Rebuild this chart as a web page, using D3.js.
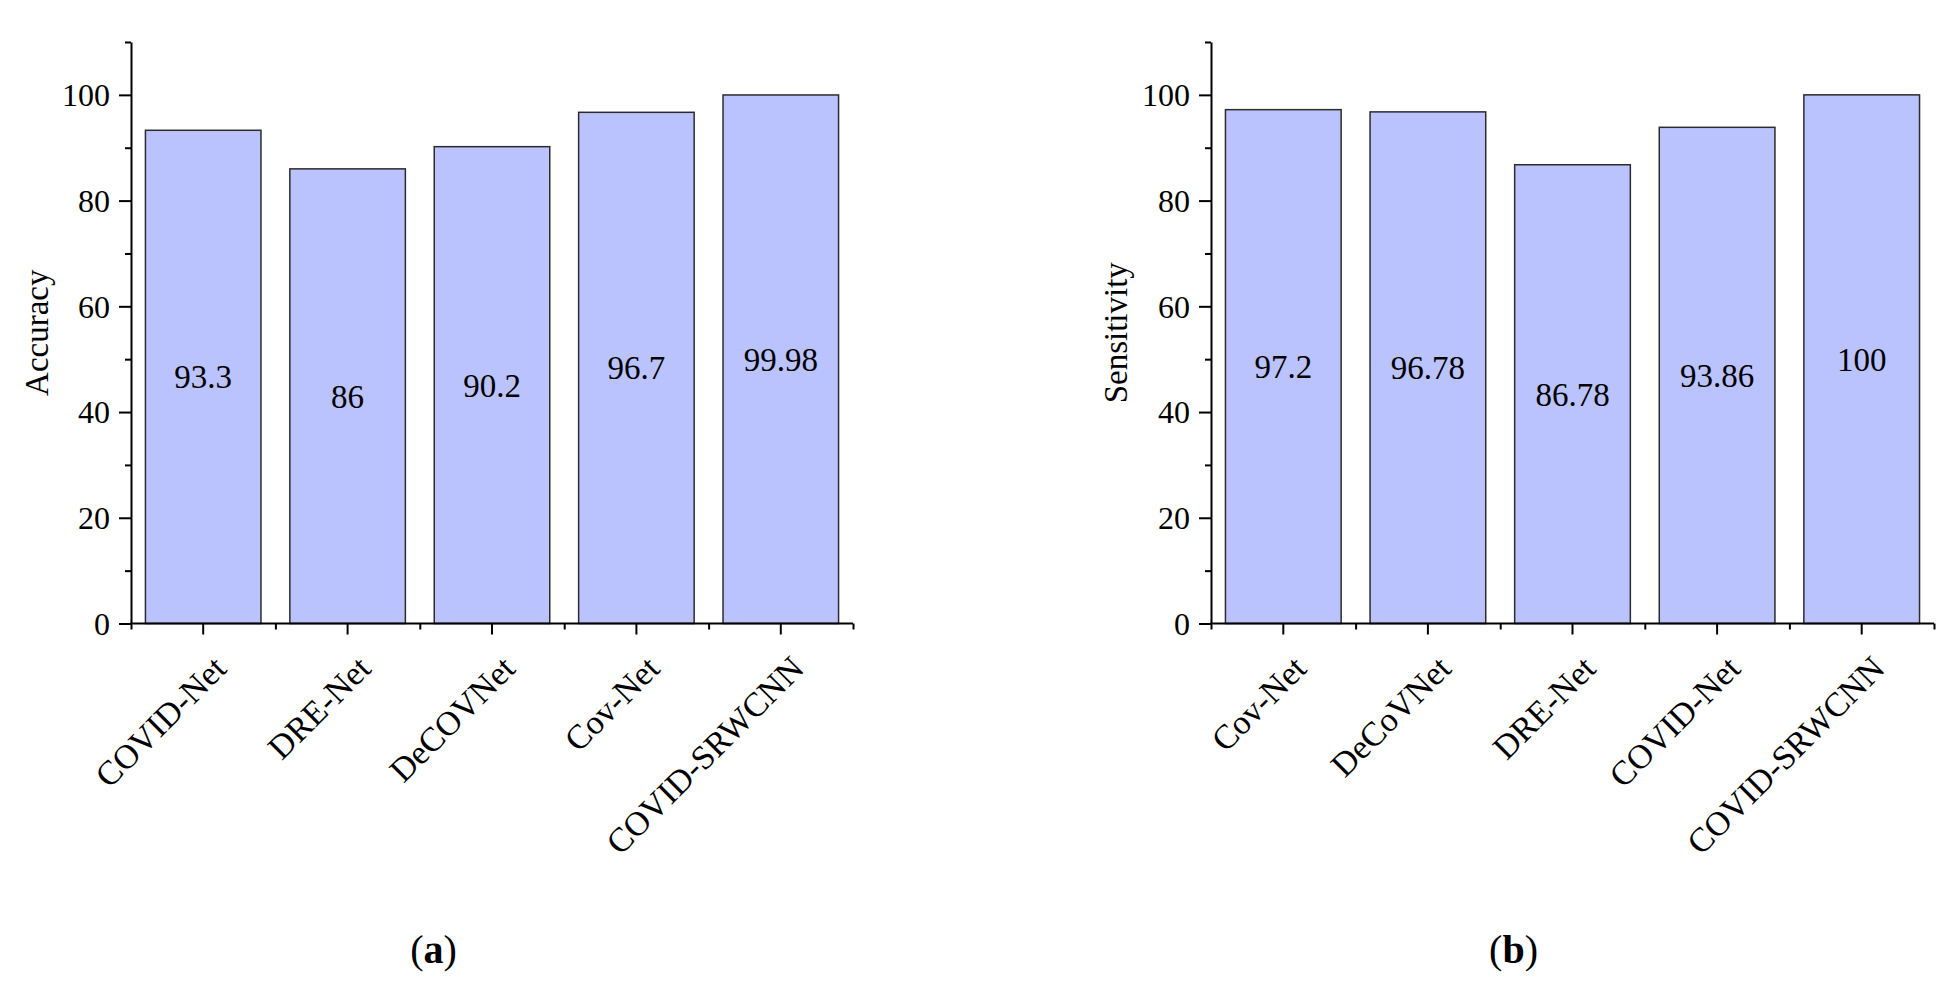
<!DOCTYPE html>
<html>
<head>
<meta charset="utf-8">
<script src="https://cdn.jsdelivr.net/npm/d3@7"></script>
<style>
  html, body { margin: 0; padding: 0; background: #fff; }
  svg { display: block; }
  text { font-family: "Liberation Serif", "Times New Roman", serif; fill: #000; }
</style>
</head>
<body>
<svg id="chart" width="1958" height="991"></svg>
<script>
// ---- data ----
const accCategories = ["COVID-Net", "DRE-Net", "DeCOVNet", "Cov-Net", "COVID-SRWCNN"];
const accValues = [93.3, 86, 90.2, 96.7, 99.98];
const accLabels = ["93.3", "86", "90.2", "96.7", "99.98"];

const senCategories = ["Cov-Net", "DeCoVNet", "DRE-Net", "COVID-Net", "COVID-SRWCNN"];
const senValues = [97.2, 96.78, 86.78, 93.86, 100];
const senLabels = ["97.2", "96.78", "86.78", "93.86", "100"];

const yMajorTicks = [0, 20, 40, 60, 80, 100];
const yMinorTicks = [10, 30, 50, 70, 90, 110];
const yDomain = [0, 110];

const panelTitles = ["Accuracy", "Sensitivity"];
const panelCaptions = ["a", "b"];

// ---- layout ----
const svg = d3.select("#chart");
svg.append("rect").attr("width", 1958).attr("height", 991).attr("fill", "#fff");

const plotTop = 42, plotBottom = 623.5;
const SERIF = '"Liberation Serif", "Times New Roman", serif';
const FONT = 32;
const BAR_FILL = "#bbc3ff";
const BAR_STROKE = "#2b2b2b";

function drawPanel(cats, vals, labels, title, caption, x0, x1, titleX, captionX) {
  const g = svg.append("g");
  const x = d3.scaleBand().domain(cats).range([x0, x1]).paddingInner(0.2).paddingOuter(0.1);
  const xEdge = d3.scaleLinear().domain([0, cats.length]).range([x0, x1]);
  const y = d3.scaleLinear().domain(yDomain).range([plotBottom, plotTop]);
  const data = cats.map((c, i) => ({ c, v: vals[i], l: labels[i] }));

  // bars
  g.selectAll("rect.bar").data(data).enter().append("rect")
    .attr("class", "bar")
    .attr("x", d => x(d.c))
    .attr("width", x.bandwidth())
    .attr("y", d => y(d.v))
    .attr("height", d => y(0) - y(d.v))
    .attr("fill", BAR_FILL)
    .attr("stroke", BAR_STROKE)
    .attr("stroke-width", 1.5);

  // value labels in the middle of each bar
  g.selectAll("text.val").data(data).enter().append("text")
    .attr("class", "val")
    .attr("x", d => x(d.c) + x.bandwidth() / 2)
    .attr("y", d => y(d.v / 2))
    .attr("dy", "0.35em")
    .attr("text-anchor", "middle")
    .style("font-family", SERIF)
    .style("font-size", "33px")
    .text(d => d.l);

  // y axis major
  const yAxis = g.append("g").attr("transform", `translate(${x0},0)`)
    .call(d3.axisLeft(y).tickValues(yMajorTicks).tickSize(12).tickSizeOuter(0).tickPadding(9));
  yAxis.selectAll("text").style("font-size", FONT + "px").attr("dy", "0.34em")
    .style("font-family", SERIF);
  yAxis.select(".domain").attr("stroke-width", 2);
  yAxis.selectAll(".tick line").attr("stroke-width", 2);

  // y axis minor
  const yMinor = g.append("g").attr("transform", `translate(${x0},0)`)
    .call(d3.axisLeft(y).tickValues(yMinorTicks).tickSize(6).tickSizeOuter(0).tickFormat(""));
  yMinor.select(".domain").remove();
  yMinor.selectAll(".tick line").attr("stroke-width", 2);

  // x axis major
  const xAxis = g.append("g").attr("transform", `translate(0,${plotBottom})`)
    .call(d3.axisBottom(x).tickSize(11).tickSizeOuter(0));
  xAxis.select(".domain").attr("stroke-width", 2).attr("d", `M${x0 - 1},0H${x1}`);
  xAxis.selectAll(".tick line").attr("stroke-width", 2);
  xAxis.selectAll("text")
    .attr("x", 0).attr("y", 0).attr("dy", 0)
    .attr("text-anchor", "end")
    .attr("transform", "translate(25,47) rotate(-45)")
    .style("font-size", "34px")
    .style("font-family", SERIF);

  // x axis minor (band edges)
  const xMinor = g.append("g").attr("transform", `translate(0,${plotBottom})`)
    .call(d3.axisBottom(xEdge).tickValues(d3.range(cats.length + 1)).tickSize(6).tickSizeOuter(0).tickFormat(""));
  xMinor.select(".domain").remove();
  xMinor.selectAll(".tick line").attr("stroke-width", 2);

  // y title
  g.append("text")
    .attr("transform", `translate(${titleX},${(plotTop + plotBottom) / 2}) rotate(-90)`)
    .attr("text-anchor", "middle")
    .style("font-family", SERIF)
    .style("font-size", "33px")
    .text(title);

  // caption
  const cap = g.append("text")
    .attr("x", captionX).attr("y", 963)
    .attr("text-anchor", "middle")
    .style("font-family", SERIF)
    .style("font-size", "40px");
  cap.append("tspan").text("(");
  cap.append("tspan").style("font-weight", "bold").text(caption);
  cap.append("tspan").text(")");
}

drawPanel(accCategories, accValues, accLabels, panelTitles[0], panelCaptions[0], 131, 853, 48, 433.5);
drawPanel(senCategories, senValues, senLabels, panelTitles[1], panelCaptions[1], 1211, 1934, 1127, 1513.5);
</script>
</body>
</html>
